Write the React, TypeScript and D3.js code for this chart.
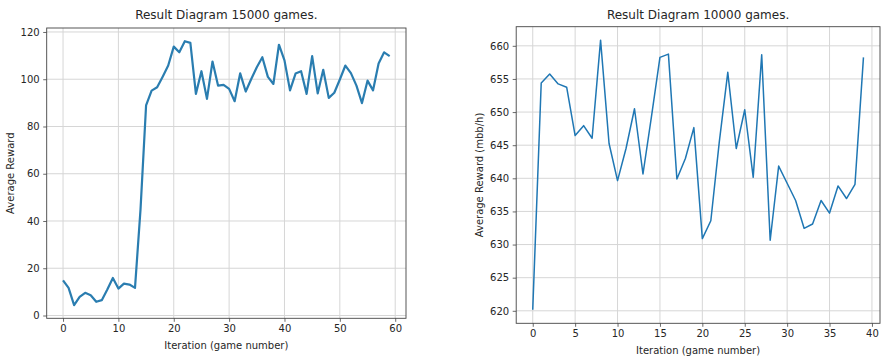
import { useRef, useEffect } from "react";
import * as d3 from "d3";

// Left panel: 15000 games, iterations 0..59
const rewards15000 = [
  14.9, 11.7, 4.4, 7.9, 9.6, 8.6, 5.8, 6.5, 11.0, 15.9,
  11.4, 13.5, 13.1, 11.7, 45.0, 88.9, 95.2, 96.6, 101.1, 105.8,
  113.8, 111.4, 116.1, 115.4, 93.8, 103.4, 91.7, 107.5, 97.3, 97.6,
  95.9, 90.7, 102.5, 94.8, 100.1, 105.1, 109.3, 101.0, 98.0, 114.6,
  108.0, 95.3, 102.4, 103.4, 93.8, 109.8, 94.0, 104.0, 92.1, 94.3,
  99.9, 105.8, 102.6, 97.3, 89.9, 99.4, 95.3, 106.7, 111.4, 109.8,
];

// Right panel: 10000 games, iterations 0..39
const rewards10000 = [
  620.15, 654.4, 655.75, 654.25, 653.75, 646.45, 647.95, 646.05, 660.85, 645.25,
  639.65, 644.5, 650.5, 640.65, 649.3, 658.25, 658.75, 639.9, 643.0, 647.65,
  630.9, 633.6, 645.5, 656.0, 644.5, 650.35, 640.15, 658.65, 630.65, 641.85,
  639.25, 636.65, 632.45, 633.1, 636.65, 634.75, 638.85, 636.95, 639.1, 658.25,
];

const xTicksLeft = [0, 10, 20, 30, 40, 50, 60];
const yTicksLeft = [0, 20, 40, 60, 80, 100, 120];
const xTicksRight = [0, 5, 10, 15, 20, 25, 30, 35, 40];
const yTicksRight = [620, 625, 630, 635, 640, 645, 650, 655, 660];

const FONT = "'DejaVu Sans', sans-serif";

type PanelOpts = {
  data: number[];
  left: number;
  right: number;
  top: number;
  bottom: number;
  xTicks: number[];
  yTicks: number[];
  title: string;
  xLabel: string;
  yLabel: string;
  yLabelX: number;
  xLabelY: number;
  lineColor: string;
  lineWidth: number;
};

function drawPanel(svg: d3.Selection<SVGSVGElement, unknown, null, undefined>, o: PanelOpts) {
  const n = o.data.length - 1;
  const xPad = n * 0.05;
  const yMin = d3.min(o.data)!;
  const yMax = d3.max(o.data)!;
  const yPad = (yMax - yMin) * 0.05;

  const x = d3.scaleLinear().domain([-xPad, n + xPad]).range([o.left, o.right]);
  const y = d3.scaleLinear().domain([yMin - yPad, yMax + yPad]).range([o.bottom, o.top]);

  const g = svg.append("g");

  // grid
  g.selectAll(".vgrid")
    .data(o.xTicks)
    .join("line")
    .attr("x1", (d) => x(d))
    .attr("x2", (d) => x(d))
    .attr("y1", o.top)
    .attr("y2", o.bottom)
    .attr("stroke", "#d6d6d6")
    .attr("stroke-width", 1);
  g.selectAll(".hgrid")
    .data(o.yTicks)
    .join("line")
    .attr("x1", o.left)
    .attr("x2", o.right)
    .attr("y1", (d) => y(d))
    .attr("y2", (d) => y(d))
    .attr("stroke", "#d6d6d6")
    .attr("stroke-width", 1);

  // line
  const line = d3
    .line<number>()
    .x((_, i) => x(i))
    .y((d) => y(d));
  g.append("path")
    .attr("d", line(o.data))
    .attr("fill", "none")
    .attr("stroke", o.lineColor)
    .attr("stroke-width", o.lineWidth)
    .attr("stroke-linejoin", "round");

  // axes
  const xAxis = d3.axisBottom(x).tickValues(o.xTicks).tickSize(3.5).tickPadding(3.5).tickFormat(d3.format("d"));
  const yAxis = d3.axisLeft(y).tickValues(o.yTicks).tickSize(3.5).tickPadding(3.5).tickFormat(d3.format("d"));

  const xg = g.append("g").attr("transform", `translate(0,${o.bottom})`).call(xAxis);
  const yg = g.append("g").attr("transform", `translate(${o.left},0)`).call(yAxis);
  [xg, yg].forEach((a) => {
    a.select(".domain").remove();
    a.selectAll(".tick line").attr("stroke", "#444").attr("stroke-width", 0.8);
    a.selectAll(".tick text").attr("fill", "#262626").attr("font-size", 10).attr("font-family", FONT);
  });

  // frame
  g.append("rect")
    .attr("x", o.left)
    .attr("y", o.top)
    .attr("width", o.right - o.left)
    .attr("height", o.bottom - o.top)
    .attr("fill", "none")
    .attr("stroke", "#444")
    .attr("stroke-width", 0.9);

  // texts
  g.append("text")
    .attr("x", (o.left + o.right) / 2)
    .attr("y", 19)
    .attr("text-anchor", "middle")
    .attr("font-size", 12)
    .attr("font-family", FONT)
    .attr("fill", "#262626")
    .text(o.title);
  g.append("text")
    .attr("x", (o.left + o.right) / 2)
    .attr("y", o.xLabelY)
    .attr("text-anchor", "middle")
    .attr("font-size", 10)
    .attr("font-family", FONT)
    .attr("fill", "#262626")
    .text(o.xLabel);
  g.append("text")
    .attr("transform", `translate(${o.yLabelX},${(o.top + o.bottom) / 2}) rotate(-90)`)
    .attr("text-anchor", "middle")
    .attr("font-size", 10)
    .attr("font-family", FONT)
    .attr("fill", "#262626")
    .text(o.yLabel);
}

export default function App() {
  const svgRef = useRef<SVGSVGElement>(null);

  useEffect(() => {
    const svg = d3.select(svgRef.current!);
    svg.selectAll("*").remove();

    drawPanel(svg, {
      data: rewards15000,
      left: 46.7,
      right: 406,
      top: 28,
      bottom: 318.3,
      xTicks: xTicksLeft,
      yTicks: yTicksLeft,
      title: "Result Diagram 15000 games.",
      xLabel: "Iteration (game number)",
      yLabel: "Average Reward",
      yLabelX: 14,
      xLabelY: 349,
      lineColor: "#2a7db0",
      lineWidth: 2.2,
    });

    drawPanel(svg, {
      data: rewards10000,
      left: 516.2,
      right: 880,
      top: 26.7,
      bottom: 323.3,
      xTicks: xTicksRight,
      yTicks: yTicksRight,
      title: "Result Diagram 10000 games.",
      xLabel: "Iteration (game number)",
      yLabel: "Average Reward (mbb/h)",
      yLabelX: 483,
      xLabelY: 354,
      lineColor: "#1f77b4",
      lineWidth: 1.5,
    });
  }, []);

  return (
    <svg
      ref={svgRef}
      width={881}
      height={356}
      style={{ position: "absolute", left: 0, top: 0, background: "#fff" }}
    />
  );
}
